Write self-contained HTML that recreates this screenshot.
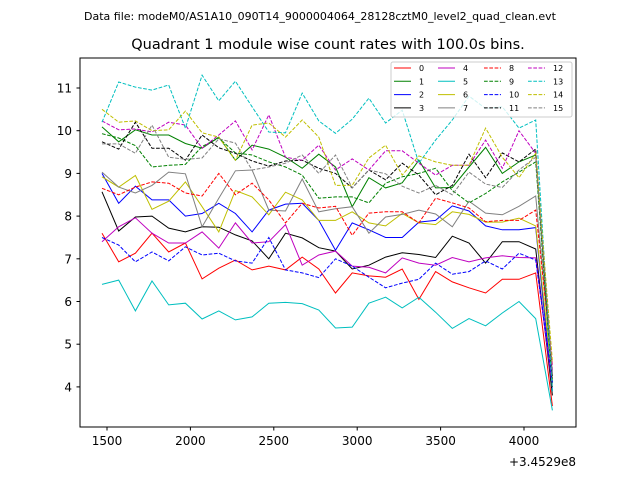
<!DOCTYPE html>
<html><head><meta charset="utf-8"><style>
body{margin:0;background:#fff;}
svg text{font-family:"DejaVu Sans","Liberation Sans",sans-serif;}
</style></head><body>
<svg id="chart" width="640" height="480" xmlns="http://www.w3.org/2000/svg">
<rect width="640" height="480" fill="#fff"/>
<text x="320" y="20" font-size="11" text-anchor="middle">Data file: modeM0/AS1A10_090T14_9000004064_28128cztM0_level2_quad_clean.evt</text>
<text x="328" y="49" font-size="14.5" text-anchor="middle">Quadrant 1 module wise count rates with 100.0s bins.</text>
<g id="plot"></g>
<rect x="80" y="58" width="496" height="369" fill="none" stroke="#000" stroke-width="1"/>
<text x="576" y="466" font-size="12" text-anchor="end">+3.4529e8</text>
</svg>
<script>
const xTicks=[1500,2000,2500,3000,3500,4000];
const yTicks=[4,5,6,7,8,9,10,11];
const times=[1470,1570,1670,1770,1870,1970,2070,2170,2270,2370,2470,2570,2670,2770,2870,2970,3070,3170,3270,3370,3470,3570,3670,3770,3870,3970,4070,4170];
const s0=[7.6,6.93,7.13,7.6,7.16,7.37,6.53,6.78,6.97,6.74,6.83,6.74,7.04,6.76,6.2,6.67,6.6,6.57,6.76,6.05,6.7,6.46,6.32,6.2,6.52,6.52,6.67,3.55];
const s1=[10.09,9.74,10.02,9.9,9.9,9.7,9.59,9.85,9.31,9.66,9.57,9.38,9.12,9.45,9.15,8.22,8.9,8.66,8.78,9.31,8.66,8.67,9.15,9.61,9.0,9.27,9.43,4.1];
const s2=[9.0,8.3,8.7,8.38,8.38,8.0,8.06,8.3,8.06,7.63,8.14,8.28,8.3,7.9,7.2,7.84,7.68,7.5,7.5,7.86,7.9,8.24,8.12,7.77,7.68,7.68,7.73,3.9];
const s3=[8.57,7.65,7.98,8.0,7.72,7.63,7.75,7.74,7.56,7.42,7.0,7.6,7.49,7.26,7.18,6.76,6.85,7.04,7.14,7.1,7.03,7.53,7.37,6.9,7.4,7.4,7.23,3.8];
const s4=[7.4,7.75,7.96,7.6,7.37,7.37,7.63,7.25,7.84,7.37,7.4,7.8,6.85,7.09,7.18,6.83,6.8,6.67,7.02,6.9,6.85,7.03,6.93,7.02,7.07,7.03,7.02,4.0];
const s5=[6.4,6.5,5.78,6.48,5.92,5.96,5.59,5.78,5.57,5.64,5.96,5.98,5.95,5.8,5.38,5.4,5.96,6.1,5.85,6.1,5.75,5.37,5.6,5.43,5.73,6.0,5.6,3.45];
const s6=[8.92,8.68,8.95,8.16,8.35,8.8,8.22,7.63,8.6,8.45,8.03,8.56,8.38,7.9,7.9,8.1,7.84,7.77,8.06,7.84,7.8,8.1,8.04,7.86,7.86,7.95,7.77,4.2];
const s7=[9.03,8.68,8.54,8.72,9.03,8.99,7.75,8.42,9.06,9.08,8.14,8.12,8.87,8.1,8.17,8.22,7.6,7.98,8.04,8.14,8.05,7.75,8.35,8.07,8.03,8.23,8.47,4.3];
const s8=[8.65,8.5,8.68,8.8,8.77,8.54,8.47,9.0,8.5,8.77,8.38,7.84,8.3,8.19,8.23,7.55,8.07,8.1,8.1,7.84,8.42,8.31,8.19,7.87,7.9,7.9,8.14,4.5];
const s9=[9.93,9.83,9.65,9.15,9.19,9.21,9.63,9.83,9.48,9.43,9.27,9.15,8.96,8.42,8.45,8.45,8.31,8.77,8.92,9.0,9.12,8.6,8.31,8.53,8.8,9.03,9.27,4.0];
const s10=[7.5,7.32,6.93,7.16,6.95,7.28,7.09,7.13,6.95,6.9,7.5,6.74,6.67,6.56,7.0,6.83,6.57,6.32,6.43,6.52,6.9,6.64,6.7,6.95,6.76,7.13,6.97,4.1];
const s11=[9.74,9.57,10.2,9.59,9.59,9.31,9.9,9.6,9.47,9.29,9.17,9.29,9.31,9.12,9.0,8.66,9.08,8.85,9.24,8.96,8.5,8.72,9.45,8.9,9.48,9.27,9.57,4.2];
const s12=[10.23,10.02,10.04,9.97,10.2,10.13,9.59,9.9,10.23,9.55,10.37,9.38,9.31,9.66,9.08,9.34,9.08,9.53,9.53,9.24,8.96,9.19,9.19,9.78,9.12,10.0,9.47,4.4];
const s13=[10.2,11.14,11.02,10.95,11.07,10.06,11.3,10.7,11.16,10.56,9.97,9.95,10.88,10.23,9.94,10.27,10.76,10.18,10.48,9.24,9.78,10.25,10.81,10.52,10.56,10.06,10.25,3.9];
const s14=[10.5,10.2,10.23,10.0,10.02,10.46,9.95,9.85,9.31,10.13,10.18,9.85,10.25,9.85,8.72,8.72,9.36,9.66,8.96,9.41,9.27,9.19,9.19,10.06,9.38,8.9,9.47,4.6];
const s15=[9.69,9.69,9.47,10.13,9.38,9.33,9.36,9.81,9.71,9.08,9.15,9.24,9.43,9.0,9.43,8.66,9.08,8.99,8.7,8.54,8.72,8.5,9.03,8.75,8.67,9.08,9.38,4.3];
const series=[s0,s1,s2,s3,s4,s5,s6,s7,s8,s9,s10,s11,s12,s13,s14,s15];
const colors=["#ff0000","#008000","#0000ff","#000000","#bf00bf","#00bfbf","#bfbf00","#808080"];
const NS="http://www.w3.org/2000/svg";
const xS=v=>107+(v-1500)*83.4/500;
const yS=v=>88+(11-v)*42.7;
const g=document.getElementById('plot');
function mk(t,a){const e=document.createElementNS(NS,t);for(const k in a)e.setAttribute(k,a[k]);return e;}
xTicks.forEach(v=>{
  const l=mk('line',{x1:xS(v),x2:xS(v),y1:427,y2:430.5,stroke:'#000'});
  
  
  g.appendChild(l);
  const t=mk('text',{x:xS(v),y:445,'font-size':12,'text-anchor':'middle'});
  t.textContent=v;
  
  
  g.appendChild(t);
});
yTicks.forEach(v=>{
  const l=mk('line',{x1:76.5,x2:80,y1:yS(v),y2:yS(v),stroke:'#000'});
  
  
  g.appendChild(l);
  const t=mk('text',{x:72,y:yS(v)+4.5,'font-size':12,'text-anchor':'end'});
  t.textContent=v;
  
  
  g.appendChild(t);
});
series.forEach((s,k)=>{
  const pts=s.map((v,i)=>xS(times[i]).toFixed(1)+','+yS(v).toFixed(1)).join(' ');
  const a={points:pts,fill:'none',stroke:colors[k%8],'stroke-width':1};
  if(k>=8)a['stroke-dasharray']='3.7,1.6';
  const p=mk('polyline',a);
  
  
  g.appendChild(p);
});
// legend
const lg=mk('g',{});


lg.appendChild(mk('rect',{x:391,y:62,width:181,height:55,fill:'#fff','fill-opacity':0.8,stroke:'#ccc',rx:2}));
const colX=[394,438,484,528];
for(let k=0;k<16;k++){
  const c=Math.floor(k/4),r=k%4,y=68+r*13.3;
  const la={x1:colX[c],x2:colX[c]+17,y1:y,y2:y,stroke:colors[k%8],'stroke-width':1};
  if(k>=8)la['stroke-dasharray']='3.7,1.6';
  const e=mk('g',{});
  
  
  e.appendChild(mk('line',la));
  const t=mk('text',{x:colX[c]+25,y:y+3,'font-size':8});
  t.textContent=k;
  e.appendChild(t);
  lg.appendChild(e);
}
g.appendChild(lg);
</script>
</body></html>
